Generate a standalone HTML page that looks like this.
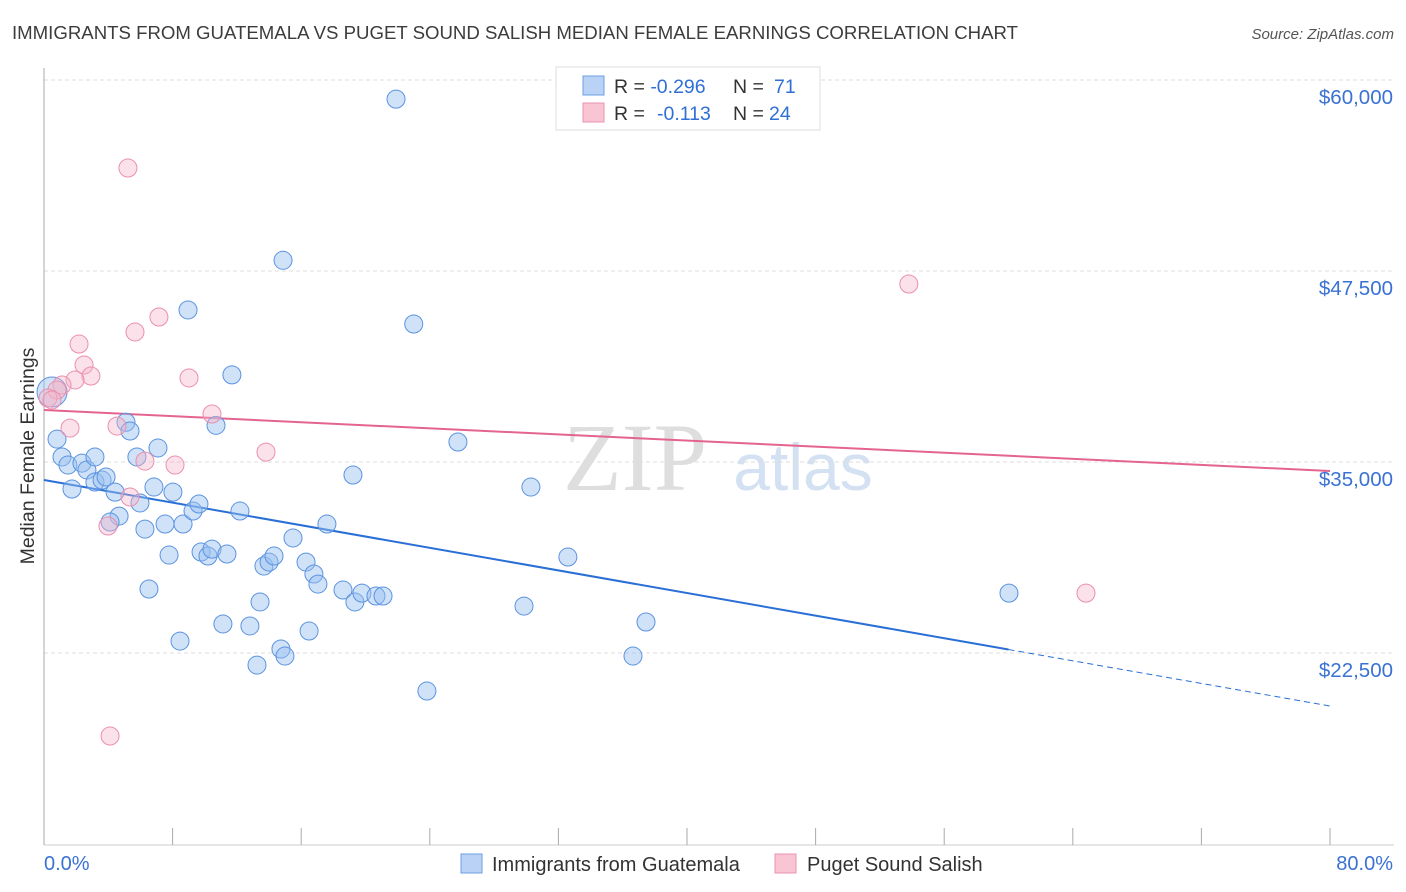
<!DOCTYPE html>
<html><head><meta charset="utf-8"><style>
body{margin:0;background:#fff;font-family:"Liberation Sans",sans-serif;}
svg{display:block}
</style></head><body>
<svg id="chart" width="1406" height="892">
<text x="12" y="39" font-size="18" fill="#3c3c3c" textLength="1006" lengthAdjust="spacingAndGlyphs">IMMIGRANTS FROM GUATEMALA VS PUGET SOUND SALISH MEDIAN FEMALE EARNINGS CORRELATION CHART</text>
<text x="1394" y="39" font-size="15" fill="#555" font-style="italic" text-anchor="end">Source: ZipAtlas.com</text>
<g><text x="635" y="490" font-family="Liberation Serif" font-size="96" fill="#dedede" text-anchor="middle">ZIP</text><text x="803" y="490" font-size="66" fill="#d3e1f3" text-anchor="middle">atlas</text></g>
<g id="grid"></g><g id="axes"></g><g id="lines"></g><g id="pts"></g>
<text transform="translate(34,456) rotate(-90)" font-size="19.5" fill="#333" text-anchor="middle">Median Female Earnings</text>
<g>
<rect x="556" y="67" width="264" height="63" fill="#fff" stroke="#ddd"/>
<rect x="583" y="76" width="21" height="19" fill="#b9d2f5" stroke="#6d9de0"/>
<rect x="583" y="103" width="21" height="19" fill="#f9c5d5" stroke="#eb94b0"/>
<text x="614" y="93" font-size="19.5" fill="#333">R = <tspan fill="#2f6fd6">-0.296</tspan><tspan x="733">N = </tspan><tspan x="774" fill="#2f6fd6">71</tspan></text>
<text x="614" y="120" font-size="19.5" fill="#333">R = <tspan x="657" fill="#2f6fd6">-0.113</tspan><tspan x="733">N = </tspan><tspan x="769" fill="#2f6fd6">24</tspan></text>
</g>
<g>
<rect x="461" y="854" width="21" height="19" fill="#b9d2f5" stroke="#6d9de0"/>
<text x="492" y="871" font-size="20" fill="#333">Immigrants from Guatemala</text>
<rect x="775" y="854" width="21" height="19" fill="#f9c5d5" stroke="#eb94b0"/>
<text x="807" y="871" font-size="20" fill="#333">Puget Sound Salish</text>
</g>
</svg>
<script>
const yTicks=[60000,47500,35000,22500];
const yTickLabels=["$60,000","$47,500","$35,000","$22,500"];
const xTicks=[0,8,16,24,32,40,48,56,64,72,80];
const blueX=[21.9,14.87,8.96,23.0,11.69,10.7,5.1,5.35,0.5,0.81,1.12,1.49,1.74,2.36,2.67,3.17,3.17,3.61,3.86,4.42,4.67,4.11,5.78,5.97,6.28,6.53,6.84,7.09,7.53,7.78,8.02,8.46,8.65,9.27,9.64,9.77,10.2,10.45,11.13,11.38,12.19,12.81,13.25,13.44,13.68,14.0,14.31,14.74,14.99,15.49,16.3,16.49,16.79,17.04,17.6,18.6,19.22,19.34,19.78,20.65,21.09,23.82,25.75,29.86,30.29,32.59,36.64,37.45,60.03];
const blueY=[58750,48200,44950,44030,40700,37400,37600,37030,39580,36500,35330,34800,33230,34930,34480,35330,33690,33820,34020,33030,31460,31070,35330,32320,30610,26690,33360,35920,30940,28910,33030,23280,30940,31790,32250,29110,28850,29300,24400,28980,31790,24270,21710,25840,28190,28450,28850,22760,22300,30030,28450,23940,27670,27010,30940,26620,34150,25840,26420,26230,26230,20010,36310,25570,33360,28780,22300,24530,26420];
const pinkX=[5.22,7.15,5.66,2.18,2.49,2.92,1.93,1.12,0.81,0.25,9.02,10.45,4.54,1.62,6.28,8.15,13.81,5.35,3.98,4.11,53.8,64.82,0.5];
const pinkY=[54240,44490,43510,42720,41350,40630,40370,40040,39710,39190,40500,38140,37350,37220,35060,34800,35650,32710,30810,17070,46650,26420,39060];
const blueTrend=[33820,19030]; const blueSolidEnd=60;
const pinkTrend=[38400,34410];
const NS="http://www.w3.org/2000/svg";
const X=p=>44+p*(1286/80);
const Y=v=>80+(60000-v)*191/12500;
function mk(t,a,parent){const e=document.createElementNS(NS,t);for(const k in a)e.setAttribute(k,a[k]);document.getElementById(parent).appendChild(e);return e;}
yTicks.forEach((v,i)=>{
 const l=mk('line',{x1:44,x2:1394,y1:Y(v),y2:Y(v),stroke:'#ddd','stroke-dasharray':'4,3'},'grid');
 
 
 const t=mk('text',{x:1393,y:Y(v)+24,'font-size':20.5,fill:'#3a72d4','text-anchor':'end'},'axes');
 t.textContent=yTickLabels[i];
 
 
});
const ax=mk('line',{x1:44,x2:44,y1:68,y2:845,stroke:'#aaa'},'axes');


const bx=mk('line',{x1:44,x2:1394,y1:845,y2:845,stroke:'#ccc'},'axes');


xTicks.forEach(p=>{
 const t=mk('line',{x1:X(p),x2:X(p),y1:828,y2:845,stroke:'#aaa'},'axes');
 
 
});
const xl=mk('text',{x:44,y:870,'font-size':20,fill:'#3a72d4'},'axes');xl.textContent='0.0%';


const xr=mk('text',{x:1393,y:870,'font-size':20,fill:'#3a72d4','text-anchor':'end'},'axes');xr.textContent='80.0%';


function yAt(tr,p){return tr[0]+(tr[1]-tr[0])*p/80;}
const bl=mk('line',{x1:X(0),y1:Y(blueTrend[0]),x2:X(blueSolidEnd),y2:Y(yAt(blueTrend,blueSolidEnd)),stroke:'#2a6fd6','stroke-width':2},'lines');


const bd=mk('line',{x1:X(blueSolidEnd),y1:Y(yAt(blueTrend,blueSolidEnd)),x2:X(80),y2:Y(blueTrend[1]),stroke:'#2a6fd6','stroke-width':1,'stroke-dasharray':'6,4'},'lines');


const pl=mk('line',{x1:X(0),y1:Y(pinkTrend[0]),x2:X(80),y2:Y(pinkTrend[1]),stroke:'#e4648f','stroke-width':2},'lines');


blueX.forEach((p,i)=>{
 const c=mk('circle',{cx:X(p),cy:Y(blueY[i]),r:i==8?15:9,fill:'rgba(150,190,240,0.45)',stroke:'#5b93e0','stroke-width':1},'pts');
 
 
});
pinkX.forEach((p,i)=>{
 const c=mk('circle',{cx:X(p),cy:Y(pinkY[i]),r:9,fill:'rgba(246,180,200,0.4)',stroke:'#eb8fae','stroke-width':1},'pts');
 
 
});
</script>
</body></html>
